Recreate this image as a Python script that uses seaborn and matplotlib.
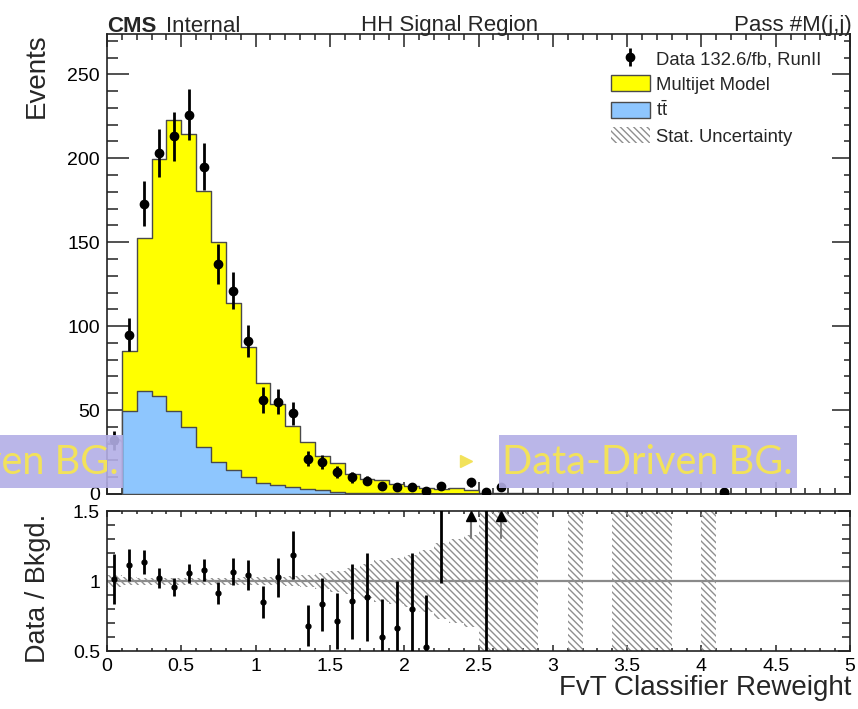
import numpy as np
import pandas as pd
import matplotlib
matplotlib.use("Agg")
import matplotlib.pyplot as plt
import seaborn as sns
from matplotlib.patches import Rectangle, Patch
from matplotlib.lines import Line2D
from matplotlib.ticker import MultipleLocator, FuncFormatter

# ---------------------------------------------------------------- data
# FvT classifier reweight, 50 bins of width 0.1 between 0 and 5
bin_edges = np.round(np.linspace(0.0, 5.0, 51), 2)

data_counts = [32, 95, 173, 203, 213, 226, 195, 137, 121, 91,
               56, 55, 48, 21, 19, 13, 10, 8, 5, 4,
               4, 2, 5, 0, 7, 1, 4, 0, 0, 0,
               0, 0, 0, 0, 0, 0, 0, 0, 0, 0,
               0, 1, 0, 0, 0, 0, 0, 0, 0, 0]

multijet = [26.5, 35.5, 91.1, 141.1, 173.4, 174.6, 152.2, 130.9, 99.2, 77.0,
            59.6, 48.2, 36.1, 27.8, 20.6, 17.0, 10.9, 8.5, 7.9, 5.7,
            4.8, 3.7, 2.7, 3.4, 2.35, 0.5, 0.5, 0.3, 0.3, 0.0,
            0.0, 0.2, 0.0, 0.0, 0.2, 0.2, 0.2, 0.2, 0.0, 0.0,
            0.2, 0.0, 0.0, 0.0, 0.0, 0.0, 0.0, 0.0, 0.0, 0.0]

ttbar = [5.0, 49.6, 61.5, 58.3, 49.6, 39.7, 28.2, 19.3, 14.3, 10.3,
         6.3, 5.4, 4.4, 3.0, 2.2, 1.2, 0.8, 0.5, 0.4, 0.3,
         0.2, 0.1, 0.1, 0.1, 0.05, 0.0, 0.0, 0.0, 0.0, 0.0,
         0.0, 0.0, 0.0, 0.0, 0.0, 0.0, 0.0, 0.0, 0.0, 0.0,
         0.0, 0.0, 0.0, 0.0, 0.0, 0.0, 0.0, 0.0, 0.0, 0.0]

# relative statistical uncertainty of the background model
stat_rel = [0.04, 0.03, 0.025, 0.025, 0.025, 0.025, 0.025, 0.025, 0.025, 0.03,
            0.03, 0.03, 0.035, 0.045, 0.06, 0.075, 0.09, 0.12, 0.15, 0.165,
            0.185, 0.22, 0.27, 0.30, 0.33, 0.9, 0.9, 0.9, 0.9, 0.0,
            0.0, 0.9, 0.0, 0.0, 0.9, 0.9, 0.9, 0.9, 0.0, 0.0,
            0.9, 0.0, 0.0, 0.0, 0.0, 0.0, 0.0, 0.0, 0.0, 0.0]

legend_labels = ["Data 132.6/fb, RunII", "Multijet Model",
                 r"$\mathrm{t\bar{t}}$", "Stat. Uncertainty"]

# ---------------------------------------------------------------- style
YELLOW = "#ffff00"
BLUE = "#8ec6fe"
EDGE = "#4a4a4a"
HATCH = "\\\\\\\\\\"
HATCH_COLOR = "#8f8f8f"
BANNER = "#b3aee6"
BANNER_TEXT = "#f2e25a"

sns.set_style("ticks")
plt.rcParams["font.family"] = ["Liberation Sans", "DejaVu Sans"]
plt.rcParams["mathtext.fontset"] = "custom"
plt.rcParams["mathtext.rm"] = "Liberation Sans"
plt.rcParams["hatch.linewidth"] = 1.0
plt.rcParams["axes.linewidth"] = 1.2
plt.rcParams["axes.edgecolor"] = "#222222"

W, H = 858, 709
fig = plt.figure(figsize=(W / 100, H / 100), dpi=100)


def fx(px):
    return px / W


def fy(py):
    return 1 - py / H


ax = fig.add_axes([fx(107), fy(494), fx(850) - fx(107), fy(34) - fy(494)])
rax = fig.add_axes([fx(107), fy(651), fx(850) - fx(107), fy(511) - fy(651)])

centers = (bin_edges[:-1] + bin_edges[1:]) / 2
df = pd.DataFrame({"center": centers, "multijet": multijet, "ttbar": ttbar,
                   "data": data_counts, "rel": stat_rel})
df["background"] = df["multijet"] + df["ttbar"]

# ---------------------------------------------------------------- main panel
# stacked background: total (multijet on top) then ttbar over it;
# the stack fill starts at the second bin
filled = df.iloc[1:]
stack_range = (float(bin_edges[1]), float(bin_edges[-1]))
sns.histplot(data=filled, x="center", weights="background", binwidth=0.1,
             binrange=stack_range, element="step", fill=True, color=YELLOW,
             alpha=1.0, edgecolor=EDGE, linewidth=1.0, ax=ax, zorder=2)
sns.histplot(data=filled, x="center", weights="ttbar", binwidth=0.1,
             binrange=stack_range, element="step", fill=True, color=BLUE,
             alpha=1.0, edgecolor=EDGE, linewidth=1.0, ax=ax, zorder=3)

bk = df["background"].to_numpy()
rel = df["rel"].to_numpy()
has_bkg = bk > 0

# the unfilled first bin shows its uncertainty box
first = df.iloc[:1]
ax.bar(first["center"], 2 * first["background"] * first["rel"],
       bottom=first["background"] * (1 - first["rel"]), width=0.1,
       fill=False, hatch=HATCH, edgecolor=HATCH_COLOR, linewidth=0, zorder=4)

obs = df[df["data"] > 0]
data_handle = ax.errorbar(obs["center"], obs["data"], yerr=np.sqrt(obs["data"]),
                          fmt="o", color="black", ms=6, elinewidth=2.0,
                          capsize=0, zorder=5)

ax.set_xlim(0, 5)
ax.set_ylim(0, 274)
ax.set_xlabel("")
ax.set_ylabel("")
ax.xaxis.set_major_locator(MultipleLocator(0.5))
ax.xaxis.set_minor_locator(MultipleLocator(0.1))
ax.yaxis.set_major_locator(MultipleLocator(50))
ax.yaxis.set_minor_locator(MultipleLocator(10))
ax.tick_params(which="both", direction="in", top=True, right=False,
               labelbottom=False, labelsize=14, colors="#222222",
               labelcolor="black", width=1.1)
ax.tick_params(axis="y", which="major", length=16, pad=5)
ax.tick_params(axis="y", which="minor", length=8)
ax.tick_params(axis="x", which="major", length=9)
ax.tick_params(axis="x", which="minor", length=4.5)

sec = ax.secondary_yaxis("right")
sec.yaxis.set_major_locator(MultipleLocator(50))
sec.yaxis.set_minor_locator(MultipleLocator(10))
sec.tick_params(which="both", direction="in", labelright=False, width=1.1,
                colors="#222222")
sec.tick_params(which="major", length=13)
sec.tick_params(which="minor", length=4)

handles = [data_handle,
           Patch(facecolor=YELLOW, edgecolor=EDGE, linewidth=1.0),
           Patch(facecolor=BLUE, edgecolor=EDGE, linewidth=1.0),
           Patch(facecolor="none", edgecolor=HATCH_COLOR, hatch=HATCH, linewidth=0)]
ax.legend(handles, legend_labels, loc="upper left",
          bbox_to_anchor=(fx(611), fy(50)), bbox_transform=fig.transFigure,
          frameon=False, fontsize=13.3, handlelength=2.1, handleheight=0.95,
          handletextpad=0.35, labelspacing=0.38, borderpad=0, borderaxespad=0)

# ---------------------------------------------------------------- ratio panel
rax.axhline(1.0, color="#8a8a8a", lw=1.6, zorder=1)
rax.bar(centers[has_bkg], 2 * rel[has_bkg], bottom=1 - rel[has_bkg], width=0.1,
        fill=False, hatch=HATCH, edgecolor=HATCH_COLOR, linewidth=0, zorder=2)

dvals = df["data"].to_numpy().astype(float)
sel = has_bkg & (dvals > 0)
ratio = dvals[sel] / bk[sel]
ratio_err = np.sqrt(dvals[sel]) / bk[sel]
rax.errorbar(centers[sel], ratio, yerr=ratio_err, fmt="o", color="black",
             ms=3.5, elinewidth=2.0, capsize=0, zorder=4)

r_lo, r_hi = 0.5, 1.5
above = (ratio - ratio_err) > r_hi
for xc in centers[sel][above]:
    rax.plot([xc, xc], [r_hi - 0.19, r_hi - 0.05], color="#7a7a7a", lw=1.5, zorder=4)
    rax.plot([xc], [r_hi - 0.035], marker="^", color="black", ms=6.5,
             linestyle="none", zorder=5)

rax.set_xlim(0, 5)
rax.set_ylim(r_lo, r_hi)
rax.xaxis.set_major_locator(MultipleLocator(0.5))
rax.xaxis.set_minor_locator(MultipleLocator(0.1))
rax.yaxis.set_major_locator(MultipleLocator(0.5))
rax.yaxis.set_minor_locator(MultipleLocator(0.1))
fmt = FuncFormatter(lambda v, _: f"{v:g}")
rax.xaxis.set_major_formatter(fmt)
rax.yaxis.set_major_formatter(fmt)
rax.tick_params(which="both", direction="in", top=True, right=True,
                labelsize=14, colors="#222222", labelcolor="black", width=1.1)
rax.tick_params(axis="y", which="major", length=9, pad=5)
rax.tick_params(axis="y", which="minor", length=6)
rax.tick_params(axis="x", which="major", length=4.5, pad=5)
rax.tick_params(axis="x", which="minor", length=2.5)

# ---------------------------------------------------------------- text
fig.text(fx(107), fy(31.5), "CMS", weight="bold", size=16, va="baseline")
fig.text(fx(166), fy(31.5), "Internal", size=16, va="baseline")
fig.text(fx(450), fy(31.5), "HH Signal Region", size=16, ha="center", va="baseline")
fig.text(fx(852), fy(31.5), "Pass #M(j,j)", size=16, ha="right", va="baseline")
fig.text(fx(37), fy(33), "Events", size=20, rotation=90, ha="center", va="top")
fig.text(fx(38), fy(588), "Data / Bkgd.", size=19.5, rotation=90,
         ha="center", va="center")
fig.text(fx(851), fy(695), "FvT Classifier Reweight", size=20,
         ha="right", va="baseline")

# ---------------------------------------------------------------- banners
fig.add_artist(Rectangle((0, fy(488)), fx(123), fy(435) - fy(488),
                         transform=fig.transFigure, facecolor=BANNER,
                         alpha=0.9, linewidth=0, zorder=10))
fig.add_artist(Rectangle((fx(499), fy(488)), fx(797) - fx(499), fy(435) - fy(488),
                         transform=fig.transFigure, facecolor=BANNER,
                         alpha=0.9, linewidth=0, zorder=10))
banner_font = ["Lato", "DejaVu Sans"]
t_right = fig.text(fx(502), fy(462), "Data-Driven BG.", color=BANNER_TEXT,
                   size=30, family=banner_font, ha="left", va="center", zorder=11)
t_left = fig.text(fx(119), fy(462), "Data-Driven BG.", color=BANNER_TEXT,
                  size=30, family=banner_font, ha="right", va="center", zorder=11)
fig.canvas.draw()
width_px = t_right.get_window_extent().width
scale = 291.0 / width_px
t_right.set_fontsize(30 * scale)
t_left.set_fontsize(30 * scale)
fig.add_artist(Line2D([fx(466)], [fy(461)], marker=">", color=BANNER_TEXT,
                      markersize=9, linestyle="none",
                      transform=fig.transFigure, zorder=11))

fig.savefig("out.png", dpi=100)
